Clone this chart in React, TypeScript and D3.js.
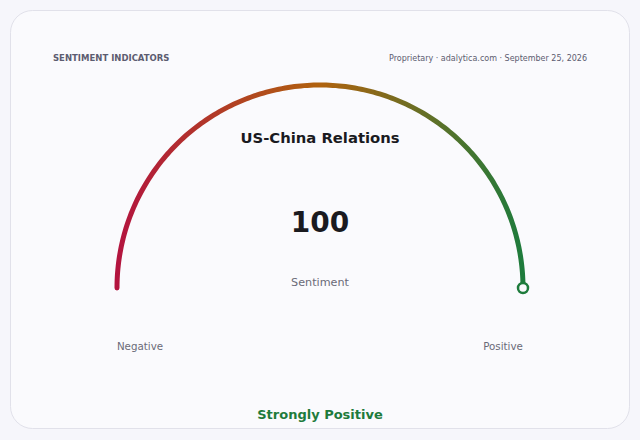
import { useEffect, useRef } from "react";
import * as d3 from "d3";

// gauge data
const indicator = "US-China Relations";
const sentimentValue = 100;
const valueDomain = [-100, 100];
const endLabels = ["Negative", "Positive"];
const verdict = "Strongly Positive";
const gradientStops = [
  { offset: 0, color: "#b3143f" },
  { offset: 0.5, color: "#b0620e" },
  { offset: 1, color: "#1e7b3c" },
];

const W = 640;
const H = 440;

const App = () => {
  const ref = useRef<SVGSVGElement>(null);

  useEffect(() => {
    const svg = d3.select(ref.current);
    svg.selectAll("*").remove();

    const font = "DejaVu Sans, sans-serif";

    svg.append("rect").attr("width", W).attr("height", H).attr("fill", "#f6f6fb");
    svg
      .append("rect")
      .attr("x", 10.5)
      .attr("y", 10.5)
      .attr("width", 619)
      .attr("height", 418)
      .attr("rx", 22)
      .attr("fill", "#fafafd")
      .attr("stroke", "#e1e1ea");

    svg
      .append("text")
      .attr("x", 53)
      .attr("y", 61)
      .attr("font-family", font)
      .attr("font-size", 8.5)
      .attr("font-weight", "bold")
      .attr("fill", "#5c5c70")
      .text("SENTIMENT INDICATORS");

    svg
      .append("text")
      .attr("x", 587)
      .attr("y", 61)
      .attr("text-anchor", "end")
      .attr("font-family", font)
      .attr("font-size", 8)
      .attr("fill", "#5c5c70")
      .text("Proprietary · adalytica.com · September 25, 2026");

    const cx = 320;
    const cy = 288;
    const r = 203;

    const angle = d3.scaleLinear().domain(valueDomain).range([-Math.PI / 2, Math.PI / 2]);

    const defs = svg.append("defs");
    const grad = defs
      .append("linearGradient")
      .attr("id", "gaugeGrad")
      .attr("gradientUnits", "userSpaceOnUse")
      .attr("x1", -r)
      .attr("x2", r)
      .attr("y1", 0)
      .attr("y2", 0);
    grad
      .selectAll("stop")
      .data(gradientStops)
      .enter()
      .append("stop")
      .attr("offset", (d) => d.offset)
      .attr("stop-color", (d) => d.color);

    const g = svg.append("g").attr("transform", `translate(${cx},${cy})`);

    const line = d3
      .lineRadial<number>()
      .angle((d) => angle(d))
      .radius(r)
      .curve(d3.curveLinear);

    const pts = d3.range(valueDomain[0], valueDomain[1] + 0.5, 1);
    g.append("path")
      .attr("d", line(pts) as string)
      .attr("fill", "none")
      .attr("stroke", "url(#gaugeGrad)")
      .attr("stroke-width", 5)
      .attr("stroke-linecap", "round");

    const a = angle(sentimentValue);
    g.append("circle")
      .attr("cx", r * Math.sin(a))
      .attr("cy", -r * Math.cos(a))
      .attr("r", 5)
      .attr("fill", "#fafafd")
      .attr("stroke", "#1e7b3c")
      .attr("stroke-width", 2.5);

    svg
      .append("text")
      .attr("x", cx)
      .attr("y", 143)
      .attr("text-anchor", "middle")
      .attr("font-family", font)
      .attr("font-size", 14.8)
      .attr("font-weight", "bold")
      .attr("fill", "#1a1a1f")
      .text(indicator);

    svg
      .append("text")
      .attr("x", cx)
      .attr("y", 232)
      .attr("text-anchor", "middle")
      .attr("font-family", font)
      .attr("font-size", 28)
      .attr("font-weight", "bold")
      .attr("fill", "#1a1a1f")
      .text(sentimentValue);

    svg
      .append("text")
      .attr("x", cx)
      .attr("y", 286)
      .attr("text-anchor", "middle")
      .attr("font-family", font)
      .attr("font-size", 11.2)
      .attr("fill", "#6a6a78")
      .text("Sentiment");

    svg
      .selectAll(".endLabel")
      .data(endLabels)
      .enter()
      .append("text")
      .attr("class", "endLabel")
      .attr("x", (_, i) => (i === 0 ? 140 : 503))
      .attr("y", 350)
      .attr("text-anchor", "middle")
      .attr("font-family", font)
      .attr("font-size", 10.3)
      .attr("fill", "#6a6a78")
      .text((d) => d);

    svg
      .append("text")
      .attr("x", cx)
      .attr("y", 419)
      .attr("text-anchor", "middle")
      .attr("font-family", font)
      .attr("font-size", 13)
      .attr("font-weight", "bold")
      .attr("fill", "#1e7b3c")
      .text(verdict);
  }, []);

  return (
    <svg
      ref={ref}
      width={W}
      height={H}
      style={{ position: "fixed", left: 0, top: 0, display: "block" }}
    />
  );
};

export default App;
